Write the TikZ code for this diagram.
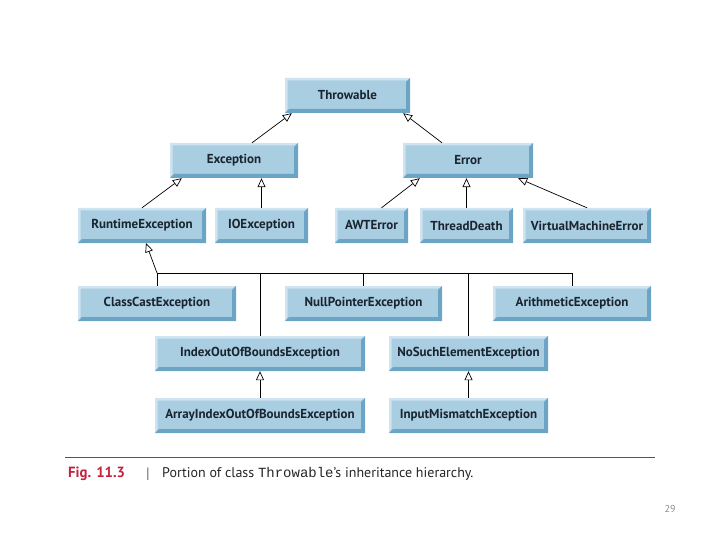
\documentclass[tikz,border=0pt]{standalone}
\usepackage{fontspec}
\setmainfont{PT Sans}
\setsansfont{PT Sans}
\setmonofont{Liberation Mono}
\usetikzlibrary{arrows.meta}
\definecolor{face}{HTML}{A9CDE1}
\definecolor{bevlight}{HTML}{CFE4F0}
\definecolor{bevdark}{HTML}{6CA4C6}
\definecolor{txt}{HTML}{1A2530}
\definecolor{figred}{HTML}{C4213B}
\definecolor{capline}{HTML}{3C5A80}
\begin{document}
\begin{tikzpicture}[x=1pt,y=-1pt,
  cls/.style={fill=face, inner sep=0pt, minimum height=35pt, text=txt,
    font=\bfseries\fontsize{13}{15}\selectfont,
    path picture={
      \fill[bevlight] (path picture bounding box.north west) -- (path picture bounding box.north east)
        -- ([shift={(-4pt,-2.5pt)}]path picture bounding box.north east)
        -- ([shift={(2.5pt,-2.5pt)}]path picture bounding box.north west)
        -- ([shift={(2.5pt,4pt)}]path picture bounding box.south west)
        -- (path picture bounding box.south west) -- cycle;
      \fill[bevdark] (path picture bounding box.north east) -- (path picture bounding box.south east)
        -- (path picture bounding box.south west)
        -- ([shift={(4pt,4pt)}]path picture bounding box.south west)
        -- ([shift={(-4pt,4pt)}]path picture bounding box.south east)
        -- ([shift={(-4pt,-4pt)}]path picture bounding box.north east) -- cycle;
    }},
  inh/.style={-{Triangle[open,length=9pt,width=8pt]}, line width=0.7pt},
  conn/.style={line width=0.7pt}]
\useasboundingbox (0,0) rectangle (720,540);

% row 0
\node[cls, minimum width=125pt] (thr) at (347.5,95.5) {Throwable};
% row 1
\node[cls, minimum width=128pt] (exc) at (234,160.5) {Exception};
\node[cls, minimum width=130pt] (err) at (468,160.5) {Error};
% row 2
\node[cls, minimum width=128pt] (rte) at (142,225.5) {RuntimeException};
\node[cls, minimum width=93pt] (ioe) at (261.5,225.5) {IOException};
\node[cls, minimum width=73pt] (awt) at (371.5,225.5) {AWTError};
\node[cls, minimum width=93pt] (thd) at (466.5,225.5) {ThreadDeath};
\node[cls, minimum width=128pt] (vme) at (587,225.5) {VirtualMachineError};
% row 3
\node[cls, minimum width=158pt] (cce) at (157,303.5) {ClassCastException};
\node[cls, minimum width=157pt] (npe) at (363.5,303.5) {NullPointerException};
\node[cls, minimum width=158pt] (ari) at (572,303.5) {ArithmeticException};
% row 4
\node[cls, minimum width=210pt] (ioob) at (260,353.5) {IndexOutOfBoundsException};
\node[cls, minimum width=159pt] (nse) at (468.5,353.5) {NoSuchElementException};
% row 5
\node[cls, minimum width=210pt] (aioob) at (260,415.5) {ArrayIndexOutOfBoundsException};
\node[cls, minimum width=159pt] (ime) at (468.5,415.5) {InputMismatchException};

% connectors
\draw[inh] ([xshift=18pt]exc.north) -- ([xshift=7pt]thr.south west);
\draw[inh] ([xshift=-26pt]err.north) -- ([xshift=-7pt]thr.south east);
\draw[inh] (rte.north) -- ([xshift=12pt]exc.south west);
\draw[inh] (ioe.north) -- (ioe.north |- exc.south);
\draw[inh] ([xshift=10pt]awt.north) -- ([xshift=17pt]err.south west);
\draw[inh] (thd.north) -- (thd.north |- err.south);
\draw[inh] (vme.north) -- ([xshift=-15pt]err.south east);

\coordinate (bus) at (157,273);
\draw[inh] (bus) -- ([xshift=4pt]rte.south);
\draw[conn] (cce.north) -- (bus) -- (ari.north |- bus) -- (ari.north);
\draw[conn] (npe.north) -- (npe.north |- bus);
\draw[conn] (ioob.north) -- (ioob.north |- bus);
\draw[conn] (nse.north) -- (nse.north |- bus);
\draw[inh] (aioob.north) -- (ioob.south);
\draw[inh] (ime.north) -- (nse.south);

% caption
\coordinate (cl1) at (65,457.5);
\coordinate (cl2) at (655,457.5);
\draw[capline, line width=1.3pt] (cl1) -- (cl2);
\node[anchor=base west, inner sep=0pt, text=figred, font=\bfseries\fontsize{14.8}{17}\selectfont] (fig) at (68,477) {Fig. 11.3};
\node[anchor=base west, inner sep=0pt, text=black!60, font=\fontsize{15}{17}\selectfont] (bar) at (146,478) {|};
\node[anchor=base west, inner sep=0pt, text=black!85, font=\fontsize{14}{16}\selectfont] (cap) at (162,477) {Portion of class {\ttfamily Throwable}'s inheritance hierarchy.};
\node[anchor=base, inner sep=0pt, text=black!45, font=\fontsize{10}{12}\selectfont] (pg) at (670,512) {29};
\end{tikzpicture}
\end{document}
